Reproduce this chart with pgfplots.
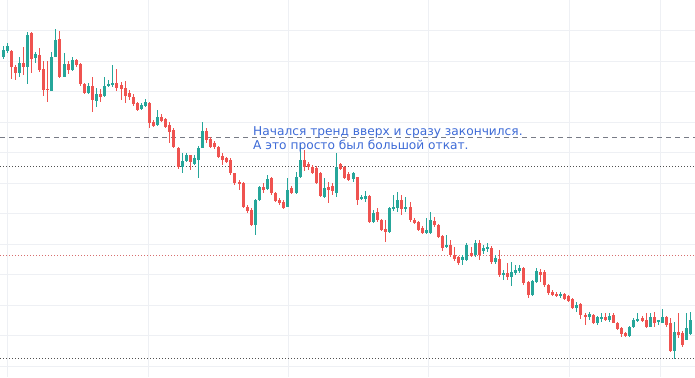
\documentclass[border=0pt]{standalone}
\usepackage{pgfplots}
\pgfplotsset{compat=1.18}
\usepackage{pgfplotstable}
\usepackage{fontspec}
\newfontfamily\labfont{DejaVu Sans}
\definecolor{upc}{HTML}{26A69A}
\definecolor{dnc}{HTML}{EF5350}
\definecolor{gridc}{HTML}{EEF0F4}
\definecolor{txtc}{HTML}{3D6AD6}
\pgfplotstableread{
i u t b h l
0 1 50 57 46 59
1 1 46 51 43 53
2 0 51 67 50 79
3 0 67 73 65 80
4 1 63 73 57 77
5 0 63 67 47 75
6 1 35 67 32 84
7 0 33 59 32 73
8 1 54 58 52 63
9 0 55 70 48 72
10 0 69 90 61 96
11 0 89 90 61 102
12 1 57 91 52 91
13 1 40 57 29 57
14 0 39 77 31 78
15 1 64 77 53 77
16 0 64 70 61 74
17 1 60 70 57 71
18 0 60 65 59 67
19 0 64 84 63 86
20 0 84 93 83 94
21 1 86 93 83 94
22 0 86 100 77 112
23 1 94 101 88 107
24 0 94 97 89 102
25 1 86 96 77 97
26 1 84 86 80 87
27 1 83 85 65 87
28 0 83 88 69 91
29 0 85 89 82 100
30 0 88 96 81 103
31 0 93 97 90 100
32 0 97 104 94 106
33 0 103 110 102 111
34 1 105 109 103 110
35 1 102 106 99 107
36 0 103 123 102 128
37 0 122 126 120 127
38 1 117 125 110 126
39 0 117 121 114 122
40 0 119 127 118 128
41 0 125 132 122 143
42 0 130 147 128 148
43 0 148 167 147 169
44 1 161 167 153 173
45 1 155 161 153 162
46 0 155 162 155 170
47 1 158 164 155 165
48 1 148 160 146 178
49 1 131 148 122 148
50 0 131 140 128 143
51 0 139 147 137 148
52 0 143 147 141 149
53 0 147 157 146 158
54 0 156 160 153 165
55 0 158 162 157 163
56 0 160 173 158 175
57 0 173 183 173 185
58 0 182 183 180 190
59 0 183 207 182 208
60 0 207 211 205 213
61 0 210 225 208 226
62 1 200 225 199 235
63 1 187 200 186 201
64 0 187 190 183 193
65 1 179 189 175 190
66 0 178 193 177 195
67 0 193 201 192 202
68 0 200 203 198 205
69 0 202 208 200 209
70 1 190 207 178 207
71 0 188 193 186 194
72 1 177 193 172 194
73 1 160 177 145 178
74 0 160 167 150 171
75 0 164 167 162 170
76 0 167 173 165 174
77 0 168 183 166 184
78 0 173 196 172 197
79 1 188 197 178 198
80 0 187 190 182 203
81 0 186 191 183 195
82 1 167 193 153 197
83 0 164 169 163 170
84 0 167 178 166 179
85 0 174 180 172 181
86 1 173 179 172 182
87 0 177 200 177 205
88 1 197 199 195 200
89 1 196 199 191 202
90 0 196 222 195 223
91 1 213 222 210 223
92 0 212 220 208 222
93 0 220 230 219 231
94 0 229 232 220 242
95 1 208 232 207 233
96 1 207 209 195 211
97 1 200 208 192 212
98 0 200 209 195 215
99 1 207 208 197 212
100 0 207 220 202 222
101 0 220 223 218 224
102 0 222 230 221 231
103 0 228 233 226 234
104 1 230 233 218 234
105 1 220 233 212 234
106 0 221 225 217 227
107 0 225 237 224 238
108 0 236 248 235 251
109 1 245 247 235 248
110 0 245 255 240 257
111 0 255 259 247 261
112 0 257 263 256 265
113 1 257 260 255 265
114 1 245 260 243 261
115 0 253 256 247 257
116 1 243 255 240 257
117 0 243 255 240 260
118 1 248 251 245 254
119 1 247 249 243 252
120 0 248 262 246 264
121 1 258 262 255 264
122 0 259 275 250 277
123 1 273 275 270 280
124 0 273 277 263 280
125 1 272 277 262 286
126 1 270 273 265 275
127 1 268 271 265 273
128 0 268 283 267 285
129 0 282 295 281 298
130 1 281 295 280 296
131 1 271 282 268 283
132 0 272 275 269 282
133 0 272 285 270 287
134 0 285 293 284 295
135 0 292 295 290 296
136 0 294 296 292 297
137 1 294 295 292 298
138 0 294 299 293 300
139 0 296 301 295 302
140 0 299 308 298 309
141 1 305 308 302 312
142 0 304 315 303 319
143 0 315 317 313 325
144 1 314 317 312 320
145 0 315 323 314 324
146 1 317 323 316 325
147 1 317 318 313 322
148 0 317 320 313 321
149 1 316 320 313 322
150 0 315 323 313 323
151 0 323 329 322 330
152 0 328 334 327 337
153 0 333 336 332 337
154 1 327 336 326 337
155 1 320 327 318 328
156 1 319 321 313 322
157 0 318 321 316 322
158 0 320 327 313 328
159 1 317 327 313 327
160 0 317 323 312 327
161 1 320 322 320 325
162 1 317 323 309 323
163 0 317 325 316 327
164 0 323 351 318 352
165 1 332 351 322 359
166 0 332 335 313 338
167 0 333 345 331 347
168 1 328 340 313 340
169 1 320 334 312 335
}\candles
\pgfplotsset{candle/.style={only marks, mark=*, mark size=0pt, mark options={draw opacity=0, fill opacity=0},
  error bars/.cd, y dir=both, y explicit, error mark=none}}
\begin{document}
\begin{tikzpicture}
\useasboundingbox (0,0) rectangle (695pt,377pt);
\begin{axis}[
  at={(0,0)}, anchor=south west,
  scale only axis, width=695pt, height=377pt,
  xmin=0, xmax=695, ymin=0, ymax=377, y dir=reverse,
  axis line style={draw=none},
  major tick length=0pt,
  xtick={7,148,288,428,569,660},
  ytick={31,61.5,92,122,152.5,183,213.5,244,274.5,305,335.5,366},
  xticklabels={}, yticklabels={},
  grid=major, major grid style={gridc, line width=1pt},
]
\addplot[color={rgb,255:red,120;green,123;blue,134}, line width=1pt, dash pattern=on 5pt off 4pt] coordinates {(0,137) (695,137)};
\addplot[color={rgb,255:red,80;green,80;blue,80}, line width=1pt, dash pattern=on 1pt off 2pt] coordinates {(0,166) (695,166)};
\addplot[color={rgb,255:red,215;green,110;blue,110}, line width=1pt, dash pattern=on 1pt off 2pt] coordinates {(0,255) (695,255)};
\addplot[color={rgb,255:red,80;green,80;blue,80}, line width=1pt, dash pattern=on 1pt off 2pt] coordinates {(0,358) (695,358)};
% wicks
\addplot[candle, error bar style={upc, line width=1pt}]
  table[x expr={3+4.07*\thisrow{i}}, y expr={\thisrow{u}==1 ? (\thisrow{h}+\thisrow{l})/2 : nan}, y error expr={(\thisrow{l}-\thisrow{h})/2}] {\candles};
\addplot[candle, error bar style={dnc, line width=1pt}]
  table[x expr={3+4.07*\thisrow{i}}, y expr={\thisrow{u}==0 ? (\thisrow{h}+\thisrow{l})/2 : nan}, y error expr={(\thisrow{l}-\thisrow{h})/2}] {\candles};
% bodies
\addplot[candle, error bar style={upc, line width=3pt}]
  table[x expr={3+4.07*\thisrow{i}}, y expr={\thisrow{u}==1 ? (\thisrow{t}+\thisrow{b})/2 : nan}, y error expr={max((\thisrow{b}-\thisrow{t})/2,0.6)}] {\candles};
\addplot[candle, error bar style={dnc, line width=3pt}]
  table[x expr={3+4.07*\thisrow{i}}, y expr={\thisrow{u}==0 ? (\thisrow{t}+\thisrow{b})/2 : nan}, y error expr={max((\thisrow{b}-\thisrow{t})/2,0.6)}] {\candles};
\node[anchor=base west, inner sep=0pt, text=txtc, font=\labfont\fontsize{12.2}{14}\selectfont] at (axis cs:253,135.7) {Начался тренд вверх и сразу закончился.};
\node[anchor=base west, inner sep=0pt, text=txtc, font=\labfont\fontsize{12.2}{14}\selectfont] at (axis cs:253,149.3) {А это просто был большой откат.};
\end{axis}
\end{tikzpicture}
\end{document}
